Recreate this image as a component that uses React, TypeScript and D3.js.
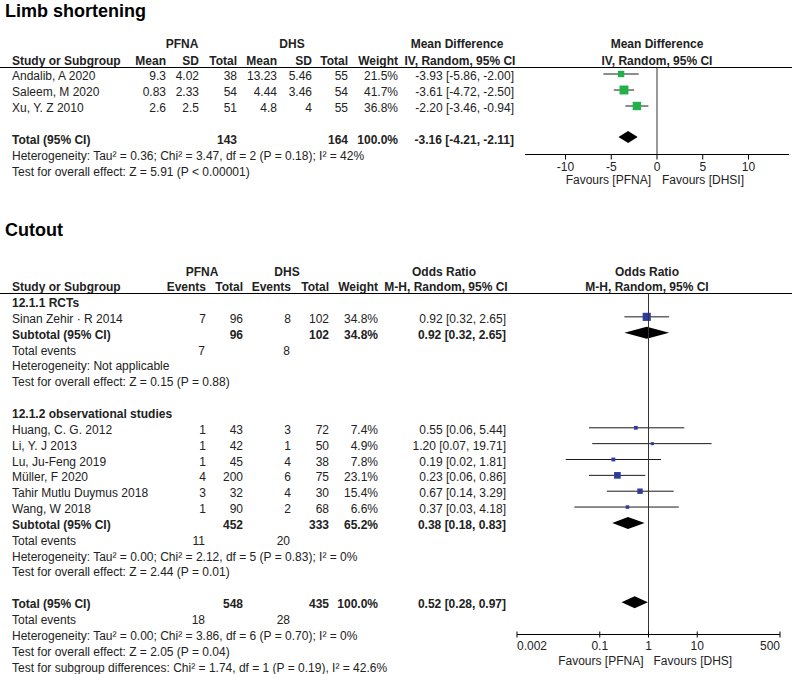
import React from 'react';
import * as d3 from 'd3';

// Limb shortening (mean difference)
const lsStudies = ['Andalib, A 2020', 'Saleem, M  2020', 'Xu, Y. Z  2010'];
const lsPfnaMean = [9.3, 0.83, 2.6];
const lsPfnaSd = [4.02, 2.33, 2.5];
const lsPfnaN = [38, 54, 51];
const lsDhsMean = [13.23, 4.44, 4.8];
const lsDhsSd = [5.46, 3.46, 4];
const lsDhsN = [55, 54, 55];
const lsWeight = [21.5, 41.7, 36.8];
const lsMd = [-3.93, -3.61, -2.2];
const lsLo = [-5.86, -4.72, -3.46];
const lsHi = [-2.0, -2.5, -0.94];
const lsPooled = [-3.16, -4.21, -2.11];
const lsTicks = [-10, -5, 0, 5, 10];
const lsNotes = [
  'Heterogeneity: Tau² = 0.36; Chi² = 3.47, df = 2 (P = 0.18); I² = 42%',
  'Test for overall effect: Z = 5.91 (P < 0.00001)',
];

// Cutout (odds ratio)
const rctStudies = ['Sinan Zehir · R 2014'];
const rctPfnaEv = [7];
const rctPfnaN = [96];
const rctDhsEv = [8];
const rctDhsN = [102];
const rctWeight = [34.8];
const rctOr = [0.92];
const rctLo = [0.32];
const rctHi = [2.65];
const rctPooled = [0.92, 0.32, 2.65];
const rctNotes = ['Heterogeneity: Not applicable', 'Test for overall effect: Z = 0.15 (P = 0.88)'];

const obsStudies = ['Huang, C. G. 2012', 'Li, Y. J 2013', 'Lu, Ju-Feng  2019', 'Müller, F 2020', 'Tahir Mutlu Duymus 2018', 'Wang, W  2018'];
const obsPfnaEv = [1, 1, 1, 4, 3, 1];
const obsPfnaN = [43, 42, 45, 200, 32, 90];
const obsDhsEv = [3, 1, 4, 6, 4, 2];
const obsDhsN = [72, 50, 38, 75, 30, 68];
const obsWeight = [7.4, 4.9, 7.8, 23.1, 15.4, 6.6];
const obsOr = [0.55, 1.2, 0.19, 0.23, 0.67, 0.37];
const obsLo = [0.06, 0.07, 0.02, 0.06, 0.14, 0.03];
const obsHi = [5.44, 19.71, 1.81, 0.86, 3.29, 4.18];
const obsPooled = [0.38, 0.18, 0.83];
const obsNotes = [
  'Heterogeneity: Tau² = 0.00; Chi² = 2.12, df = 5 (P = 0.83); I² = 0%',
  'Test for overall effect: Z = 2.44 (P = 0.01)',
];
const allPooled = [0.52, 0.28, 0.97];
const allNotes = [
  'Heterogeneity: Tau² = 0.00; Chi² = 3.86, df = 6 (P = 0.70); I² = 0%',
  'Test for overall effect: Z = 2.05 (P = 0.04)',
  'Test for subgroup differences: Chi² = 1.74, df = 1 (P = 0.19), I² = 42.6%',
];
const orTicks = [0.002, 0.1, 1, 10, 500];

const GREEN = '#22b04b';
const BLUE = '#2e3d9c';
const INK = '#1a1a1a';

const ci = (m: number, l: number, h: number) => `${m.toFixed(2)} [${l.toFixed(2)}, ${h.toFixed(2)}]`;
const pct = (w: number) => `${w.toFixed(1)}%`;

const T = ({ x, y, a = 'start', b = false, children }: any) => (
  <text x={x} y={y} textAnchor={a} fontWeight={b ? 'bold' : 'normal'}>{children}</text>
);

const boxSize = d3.scaleSqrt().domain([0, 100]).range([0, 13.8]);

const Diamond = ({ x, v, y }: any) => {
  const [m, l, h] = v;
  const pts = [[x(l), y], [x(m), y - 6], [x(h), y], [x(m), y + 6]];
  return <polygon points={pts.map(p => p.join(',')).join(' ')} fill="#000" />;
};

const StudyMark = ({ x, m, l, h, w, y, colour }: any) => {
  const s = boxSize(w);
  return (
    <g>
      <line x1={x(l)} x2={x(h)} y1={y} y2={y} stroke={INK} strokeWidth={1} />
      <rect x={x(m) - s / 2} y={y - s / 2} width={s} height={s} fill={colour} />
    </g>
  );
};

const LimbPanel = () => {
  const x = d3.scaleLinear().domain([-14.43, 14.43]).range([525, 789]);
  const rows = [76, 92, 108];
  const totalY = 140;
  const axisY = 154.5;
  return (
    <g>
      <text x={5} y={17} fontSize={18} fontWeight="bold" fill="#000">Limb shortening</text>
      <T x={182} y={48} a="middle" b>PFNA</T>
      <T x={292} y={48} a="middle" b>DHS</T>
      <T x={457} y={48} a="middle" b>Mean Difference</T>
      <T x={657} y={48} a="middle" b>Mean Difference</T>
      <T x={12} y={65} b>Study or Subgroup</T>
      <T x={166} y={65} a="end" b>Mean</T>
      <T x={199} y={65} a="end" b>SD</T>
      <T x={237} y={65} a="end" b>Total</T>
      <T x={277} y={65} a="end" b>Mean</T>
      <T x={312} y={65} a="end" b>SD</T>
      <T x={348} y={65} a="end" b>Total</T>
      <T x={398} y={65} a="end" b>Weight</T>
      <T x={460} y={65} a="middle" b>IV, Random, 95% CI</T>
      <T x={657} y={65} a="middle" b>IV, Random, 95% CI</T>
      <line x1={0} x2={792} y1={67.5} y2={67.5} stroke="#000" />
      {lsStudies.map((s, i) => (
        <g key={s}>
          <T x={12} y={rows[i] + 4}>{s}</T>
          <T x={166} y={rows[i] + 4} a="end">{String(lsPfnaMean[i])}</T>
          <T x={199} y={rows[i] + 4} a="end">{String(lsPfnaSd[i])}</T>
          <T x={237} y={rows[i] + 4} a="end">{lsPfnaN[i]}</T>
          <T x={277} y={rows[i] + 4} a="end">{String(lsDhsMean[i])}</T>
          <T x={312} y={rows[i] + 4} a="end">{String(lsDhsSd[i])}</T>
          <T x={348} y={rows[i] + 4} a="end">{lsDhsN[i]}</T>
          <T x={398} y={rows[i] + 4} a="end">{pct(lsWeight[i])}</T>
          <T x={514} y={rows[i] + 4} a="end">{ci(lsMd[i], lsLo[i], lsHi[i])}</T>
          <StudyMark x={x} m={lsMd[i]} l={lsLo[i]} h={lsHi[i]} w={lsWeight[i]} y={rows[i] - 2} colour={GREEN} />
        </g>
      ))}
      <T x={12} y={totalY + 4} b>Total (95% CI)</T>
      <T x={237} y={totalY + 4} a="end" b>{d3.sum(lsPfnaN)}</T>
      <T x={348} y={totalY + 4} a="end" b>{d3.sum(lsDhsN)}</T>
      <T x={398} y={totalY + 4} a="end" b>{pct(d3.sum(lsWeight))}</T>
      <T x={514} y={totalY + 4} a="end" b>{ci(lsPooled[0], lsPooled[1], lsPooled[2])}</T>
      <Diamond x={x} v={lsPooled} y={totalY - 3} />
      {lsNotes.map((n, i) => <T key={n} x={12} y={totalY + 20 + i * 16}>{n}</T>)}
      <line x1={x(0)} x2={x(0)} y1={67.5} y2={axisY} stroke="#333" />
      <line x1={525} x2={789} y1={axisY} y2={axisY} stroke="#000" />
      {lsTicks.map(t => (
        <g key={t}>
          <line x1={x(t)} x2={x(t)} y1={axisY} y2={axisY + 5} stroke="#000" />
          <T x={x(t)} y={axisY + 16} a="middle">{String(t)}</T>
        </g>
      ))}
      <T x={x(0) - 6} y={axisY + 29} a="end">Favours [PFNA]</T>
      <T x={x(0) + 5} y={axisY + 29}>Favours [DHSI]</T>
    </g>
  );
};

const CutoutPanel = () => {
  const x = d3.scaleLog().domain([0.002, 500]).range([517, 780]);
  const rowY = (i: number) => 303 + i * 15.85;
  const axisY = 634.5;
  const cols = { pe: 206, pn: 243, de: 291, dn: 329, w: 378, ci: 506 };

  const studyRows = (names: string[], pe: number[], pn: number[], de: number[], dn: number[], w: number[], or: number[], lo: number[], hi: number[], start: number) =>
    names.map((s, i) => {
      const y = rowY(start + i);
      return (
        <g key={s}>
          <T x={12} y={y + 4}>{s}</T>
          <T x={cols.pe} y={y + 4} a="end">{pe[i]}</T>
          <T x={cols.pn} y={y + 4} a="end">{pn[i]}</T>
          <T x={cols.de} y={y + 4} a="end">{de[i]}</T>
          <T x={cols.dn} y={y + 4} a="end">{dn[i]}</T>
          <T x={cols.w} y={y + 4} a="end">{pct(w[i])}</T>
          <T x={cols.ci} y={y + 4} a="end">{ci(or[i], lo[i], hi[i])}</T>
          <StudyMark x={x} m={or[i]} l={lo[i]} h={hi[i]} w={w[i]} y={y - 2} colour={BLUE} />
        </g>
      );
    });

  const subtotal = (i: number, pn: number[], dn: number[], w: number[], pooled: number[], label = 'Subtotal (95% CI)') => {
    const y = rowY(i);
    return (
      <g>
        <T x={12} y={y + 4} b>{label}</T>
        <T x={cols.pn} y={y + 4} a="end" b>{d3.sum(pn)}</T>
        <T x={cols.dn} y={y + 4} a="end" b>{d3.sum(dn)}</T>
        <T x={cols.w} y={y + 4} a="end" b>{pct(d3.sum(w))}</T>
        <T x={cols.ci} y={y + 4} a="end" b>{ci(pooled[0], pooled[1], pooled[2])}</T>
        <Diamond x={x} v={pooled} y={y - 2} />
      </g>
    );
  };

  const events = (i: number, pe: number, de: number) => (
    <g>
      <T x={12} y={rowY(i) + 4}>Total events</T>
      <T x={cols.pe - 1} y={rowY(i) + 4} a="end">{pe}</T>
      <T x={cols.de - 1} y={rowY(i) + 4} a="end">{de}</T>
    </g>
  );

  const notes = (i: number, list: string[]) =>
    list.map((n, k) => <T key={n} x={12} y={rowY(i + k) + 4}>{n}</T>);

  return (
    <g>
      <text x={5} y={236} fontSize={18} fontWeight="bold" fill="#000">Cutout</text>
      <T x={202} y={276} a="middle" b>PFNA</T>
      <T x={287} y={276} a="middle" b>DHS</T>
      <T x={444} y={276} a="middle" b>Odds Ratio</T>
      <T x={647} y={276} a="middle" b>Odds Ratio</T>
      <T x={12} y={291} b>Study or Subgroup</T>
      <T x={cols.pe} y={291} a="end" b>Events</T>
      <T x={cols.pn} y={291} a="end" b>Total</T>
      <T x={cols.de} y={291} a="end" b>Events</T>
      <T x={cols.dn} y={291} a="end" b>Total</T>
      <T x={cols.w} y={291} a="end" b>Weight</T>
      <T x={446} y={291} a="middle" b>M-H, Random, 95% CI</T>
      <T x={647} y={291} a="middle" b>M-H, Random, 95% CI</T>
      <line x1={0} x2={792} y1={293.5} y2={293.5} stroke="#000" />

      <T x={12} y={rowY(0) + 4} b>12.1.1 RCTs</T>
      {studyRows(rctStudies, rctPfnaEv, rctPfnaN, rctDhsEv, rctDhsN, rctWeight, rctOr, rctLo, rctHi, 1)}
      {subtotal(2, rctPfnaN, rctDhsN, rctWeight, rctPooled)}
      {events(3, d3.sum(rctPfnaEv), d3.sum(rctDhsEv))}
      {notes(4, rctNotes)}

      <T x={12} y={rowY(7) + 4} b>12.1.2 observational studies</T>
      {studyRows(obsStudies, obsPfnaEv, obsPfnaN, obsDhsEv, obsDhsN, obsWeight, obsOr, obsLo, obsHi, 8)}
      {subtotal(14, obsPfnaN, obsDhsN, obsWeight, obsPooled)}
      {events(15, d3.sum(obsPfnaEv), d3.sum(obsDhsEv))}
      {notes(16, obsNotes)}

      {subtotal(19, rctPfnaN.concat(obsPfnaN), rctDhsN.concat(obsDhsN), rctWeight.concat(obsWeight), allPooled, 'Total (95% CI)')}
      {events(20, d3.sum(rctPfnaEv) + d3.sum(obsPfnaEv), d3.sum(rctDhsEv) + d3.sum(obsDhsEv))}
      {notes(21, allNotes)}

      <line x1={x(1)} x2={x(1)} y1={293.5} y2={axisY} stroke="#333" />
      <line x1={x(0.002)} x2={x(500)} y1={axisY} y2={axisY} stroke="#000" />
      {orTicks.map(t => (
        <g key={t}>
          <line x1={x(t)} x2={x(t)} y1={axisY - 3} y2={axisY + 3} stroke="#000" />
          <T x={x(t)} y={axisY + 15} a={t === 0.002 ? 'start' : t === 500 ? 'end' : 'middle'}>{String(t)}</T>
        </g>
      ))}
      <T x={x(1) - 5} y={axisY + 30} a="end">Favours [PFNA]</T>
      <T x={x(1) + 5} y={axisY + 30}>Favours [DHS]</T>
    </g>
  );
};

const App = () => (
  <svg
    width={800}
    height={674}
    style={{ position: 'absolute', left: 0, top: 0, background: '#fff' }}
    fontFamily='"Liberation Sans", Arial, sans-serif'
    fontSize={12}
    fill="#222"
  >
    <LimbPanel />
    <CutoutPanel />
  </svg>
);

export default App;
